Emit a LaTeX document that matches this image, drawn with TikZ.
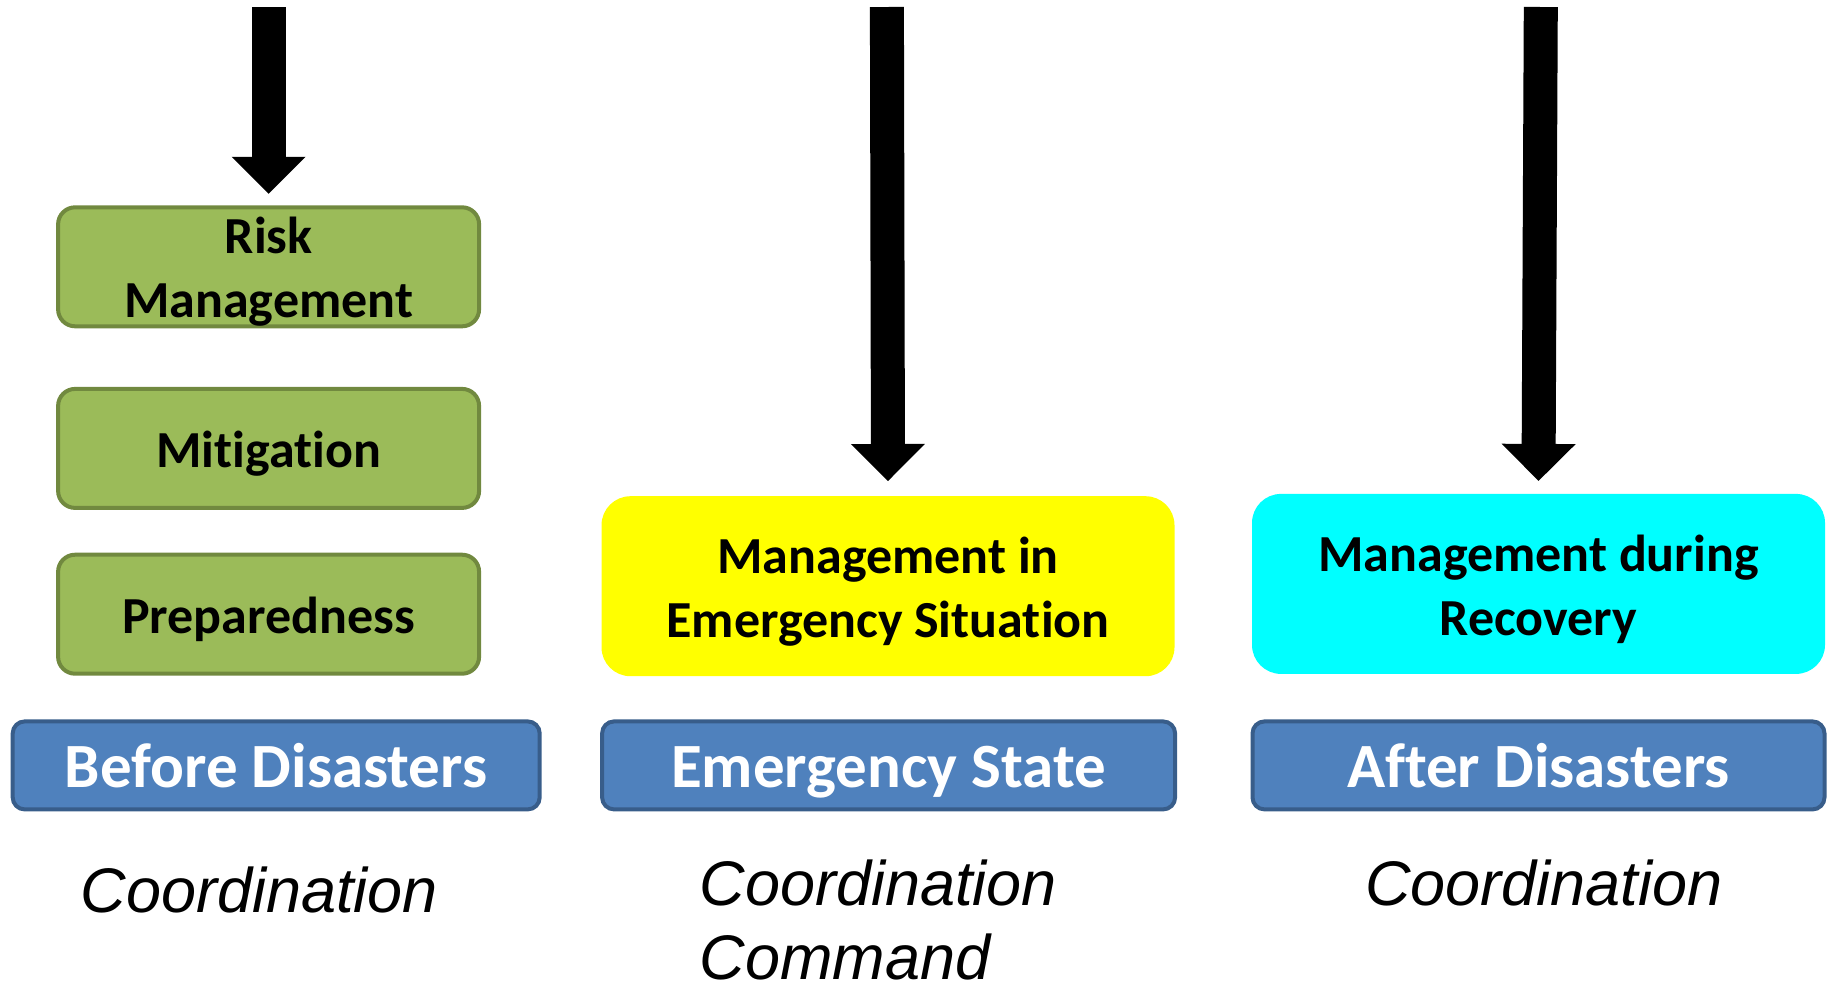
\documentclass[tikz,border=0pt]{standalone}
\usepackage{fontspec}
\setmainfont{Carlito}[Ligatures=NoCommon]
\newfontfamily\arialfont{Liberation Sans}
\usetikzlibrary{arrows.meta,calc}
\definecolor{gfill}{HTML}{9BBB59}
\definecolor{gdraw}{HTML}{71893F}
\definecolor{bfill}{HTML}{4F81BD}
\definecolor{bdraw}{HTML}{385D8A}
\definecolor{ylw}{RGB}{255,255,0}
\definecolor{aqua}{RGB}{0,255,255}
\begin{document}
\begin{tikzpicture}[x=1pt,y=-1pt,
 blacktext/.style={align=center, inner sep=0pt, yshift=-6.3pt, font=\bfseries\fontsize{52}{64}\selectfont, execute at begin node=\strut},
 whitetext/.style={align=center, inner sep=0pt, yshift=-6.5pt, text=white, font=\bfseries\fontsize{63}{76}\selectfont, execute at begin node=\strut},
 greenbox/.style={draw=gdraw, fill=gfill, line width=4pt, rounded corners=17pt, minimum width=421pt, minimum height=119pt, inner sep=0pt, label={[blacktext]center:#1}},
 phasebox/.style={draw=bdraw, fill=bfill, line width=4pt, rounded corners=12pt, minimum height=88pt, inner sep=0pt, label={[whitetext]center:#1}},
 mgmtbox/.style={rounded corners=29pt, minimum width=573pt, minimum height=180pt, inner sep=0pt, label={[blacktext]center:#1}},
 bigarrow/.style={line width=34pt, -{Triangle[width=74pt,length=37pt,line width=0pt]}},
 note/.style={font=\arialfont\itshape\fontsize{63}{76}\selectfont, inner sep=0pt}
]
\useasboundingbox (0,0) rectangle (1831,986);
\node[greenbox={Risk\strut\\Management}] (risk) at (268.6,266.8) {};
\node[greenbox={Mitigation}] (mit) at (268.6,448.4) {};
\node[greenbox={Preparedness}] (prep) at (268.6,614.2) {};
\node[phasebox={Before Disasters}, minimum width=527pt] (before) at (276.2,765.4) {};
\node[mgmtbox={Management in\strut\\Emergency Situation}, fill=ylw] (emg) at (888,586.2) {};
\node[phasebox={Emergency State}, minimum width=573pt] (state) at (888.6,765.4) {};
\node[mgmtbox={Management during\strut\\Recovery}, fill=aqua] (rec) at (1538.5,583.9) {};
\node[phasebox={After Disasters}, minimum width=572pt] (after) at (1538.5,765.4) {};
\node[note, anchor=base] (c1) at (259.2,912) {Coordination};
\node[note, anchor=base west] (c2) at (699.5,905) {Coordination};
\node[note, anchor=base west] (c3) at (699.5,979) {Command};
\node[note, anchor=base] (c4) at (1543.7,905) {Coordination};
\coordinate (t1) at (268.6,7);
\coordinate (t2) at (886.9,7);
\coordinate (t3) at (1540.8,7);
\draw[bigarrow] (t1) -- ($(risk.north)+(0,-11.5)$);
\draw[bigarrow] (t2) -- ($(emg.north)+(0,-15)$);
\draw[bigarrow] (t3) -- ($(rec.north)+(0,-12.8)$);
\end{tikzpicture}
\end{document}
